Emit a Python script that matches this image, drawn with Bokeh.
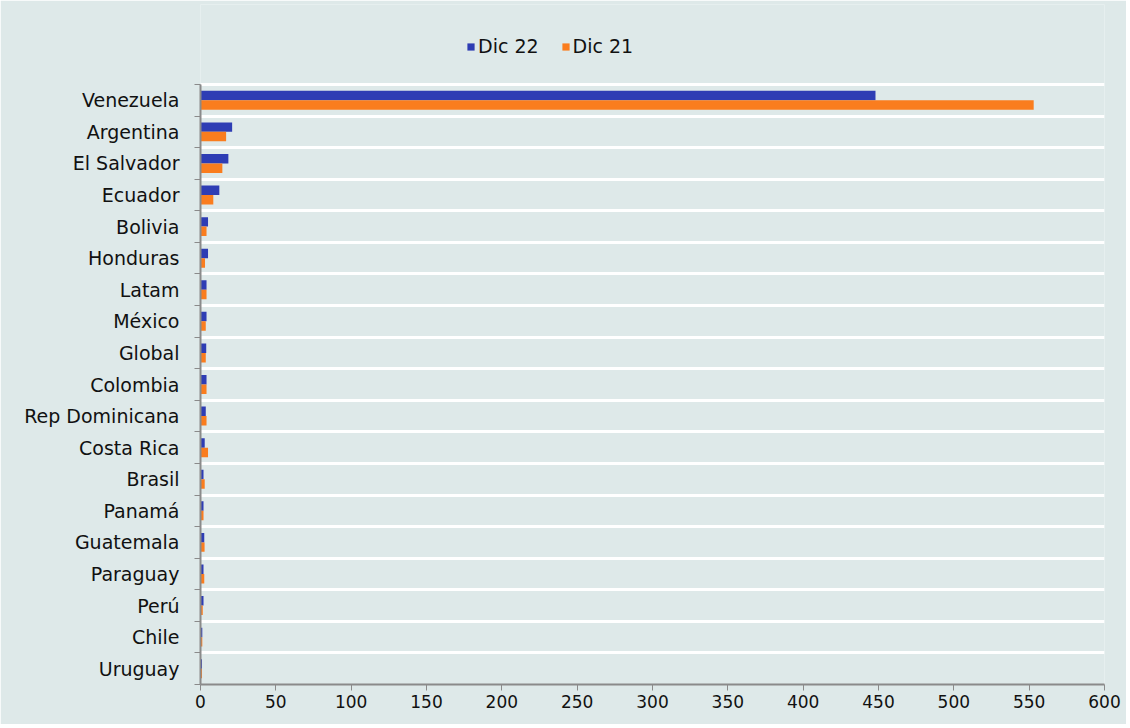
from bokeh.plotting import figure
from bokeh.models import ColumnDataSource, Range1d, FixedTicker, Legend, LegendItem
from bokeh.transform import dodge
from bokeh.embed import file_html
from bokeh.resources import INLINE

countries = ["Venezuela", "Argentina", "El Salvador", "Ecuador", "Bolivia", "Honduras",
             "Latam", "México", "Global", "Colombia", "Rep Dominicana", "Costa Rica",
             "Brasil", "Panamá", "Guatemala", "Paraguay", "Perú", "Chile", "Uruguay"]
dic22 = [448, 21, 18.5, 12.5, 5, 5, 4, 4, 3.8, 4, 3.5, 2.8, 2, 2, 2.5, 2, 2, 1.2, 1]
dic21 = [553, 17, 14.5, 8.5, 4, 3, 4, 3.5, 3.5, 4, 4, 5, 2.8, 2, 2.7, 2.5, 1.5, 1.2, 1]
x_ticks = [0, 50, 100, 150, 200, 250, 300, 350, 400, 450, 500, 550, 600]

n = len(countries)
pos = [n - 1 - i for i in range(n)]
src = ColumnDataSource(dict(y=pos, c=countries, d22=dic22, d21=dic21))

BG = "#DEE9E9"
FONT = "DejaVu Sans"

# layout: bars area is 600 px tall; frame extends 80 px higher to hold the legend
BAR_PX = 600
TOP_PX = 80
unit = BAR_PX / n
y_top = n - 0.5 + TOP_PX / unit

p = figure(width=1126, height=724, output_backend="svg", toolbar_location=None,
           x_range=Range1d(0, 600), y_range=Range1d(-0.5, y_top),
           min_border_left=200, min_border_right=22, min_border_top=4, min_border_bottom=40,
           background_fill_color=BG, border_fill_color=BG, outline_line_color=None)

r22 = p.hbar(y=dodge("y", 0.15), right="d22", left=0, height=0.3, source=src,
             fill_color="#2E3DB4", line_color=None)
r21 = p.hbar(y=dodge("y", -0.15), right="d21", left=0, height=0.3, source=src,
             fill_color="#FA7D1E", line_color=None)

bounds = [k - 0.5 for k in range(n + 1)]
p.yaxis.bounds = (-0.5, n - 0.5)
p.yaxis.ticker = FixedTicker(ticks=pos, minor_ticks=bounds)
p.yaxis.major_label_overrides = {k: c for k, c in zip(pos, countries)}
p.yaxis.major_tick_out = 0
p.yaxis.major_tick_in = 0
p.yaxis.minor_tick_out = 6
p.yaxis.minor_tick_in = 0
p.yaxis.minor_tick_line_color = "#8A8A8A"
p.yaxis.axis_line_color = "#8A8A8A"
p.yaxis.axis_line_width = 2
p.yaxis.major_label_standoff = 15
p.yaxis.major_label_text_font = FONT
p.yaxis.major_label_text_font_size = "19px"
p.yaxis.major_label_text_color = "#111111"

p.ygrid.grid_line_color = None
p.ygrid.minor_grid_line_color = "white"
p.ygrid.minor_grid_line_width = 3
p.xgrid.grid_line_color = None

p.xaxis.ticker = FixedTicker(ticks=x_ticks)
p.xaxis.minor_tick_line_color = None
p.xaxis.major_tick_out = 6
p.xaxis.major_tick_in = 0
p.xaxis.major_tick_line_color = "#8A8A8A"
p.xaxis.axis_line_color = "#8A8A8A"
p.xaxis.axis_line_width = 2
p.xaxis.major_label_standoff = 4
p.xaxis.major_label_text_font = FONT
p.xaxis.major_label_text_font_size = "17px"
p.xaxis.major_label_text_color = "#111111"

legend = Legend(items=[LegendItem(label="Dic 22", renderers=[r22]),
                       LegendItem(label="Dic 21", renderers=[r21])],
                orientation="horizontal", location=(266, 627),
                glyph_width=9, glyph_height=9, label_standoff=3, spacing=22,
                padding=5, margin=0, label_text_font=FONT, label_text_font_size="19px",
                label_text_color="#111111", background_fill_alpha=0, border_line_color=None)
p.add_layout(legend, "center")

open("out.html", "w").write(file_html(p, INLINE))
